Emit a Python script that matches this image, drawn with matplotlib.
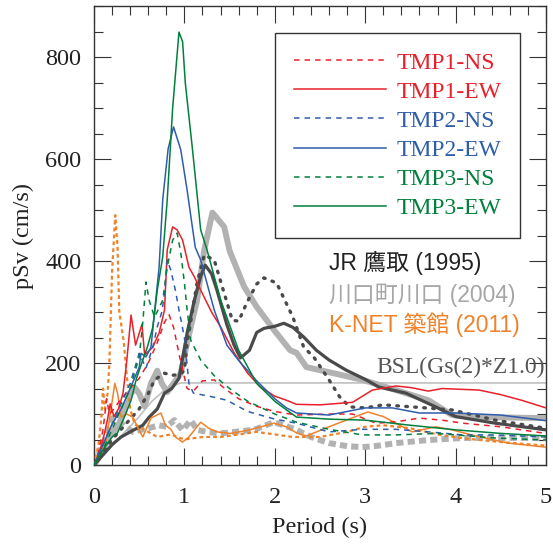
import numpy as np
import matplotlib
matplotlib.use("Agg")
import matplotlib.pyplot as plt

plt.rcParams['font.family'] = ['Liberation Serif', 'DejaVu Serif']

# --- spectra (period [s], pSv [cm/s]) ---
tmp1_ns_t = [0, 0.05, 0.1, 0.14, 0.17, 0.22, 0.3, 0.4, 0.5, 0.6, 0.7, 0.78, 0.83, 0.88, 0.95, 1.03, 1.1, 1.2, 1.33,
             1.44, 1.6, 1.8, 2.0, 2.24, 2.6, 2.86, 3.12, 3.35, 3.6, 3.85, 4.08, 4.5, 4.88, 5.0]
tmp1_ns_v = [0, 25, 70, 130, 100, 110, 130, 150, 170, 200, 240, 280, 295, 270, 210, 150, 145, 165, 167,
             151, 130, 115, 105, 98, 100, 100, 82, 85, 92, 88, 82, 75, 65, 62]

tmp1_ew_t = [0, 0.05, 0.1, 0.15, 0.18, 0.22, 0.27, 0.32, 0.36, 0.41, 0.46, 0.53, 0.56, 0.65, 0.72, 0.78, 0.81, 0.87,
             0.92, 0.98, 1.05, 1.11, 1.18, 1.3, 1.4, 1.55, 1.7, 1.84, 2.0, 2.13, 2.24, 2.5, 2.86, 3.08, 3.34, 3.5,
             3.7, 3.85, 4.26, 4.5, 4.73, 5.0]
tmp1_ew_v = [0, 20, 50, 90, 120, 95, 110, 140, 200, 294, 235, 276, 216, 231, 259, 304, 422, 467,
             461, 441, 388, 369, 343, 300, 271, 220, 180, 153, 135, 127, 119, 118, 123, 147, 155, 152,
             145, 150, 147, 138, 127, 112]

tmp2_ns_t = [0, 0.1, 0.2, 0.3, 0.4, 0.5, 0.575, 0.65, 0.7, 0.75, 0.78, 0.81, 0.85, 0.9, 0.94, 1.0, 1.05, 1.1, 1.33,
             1.47, 1.7, 2.0, 2.24, 2.6, 2.97, 3.34, 3.7, 4.08, 4.44, 5.0]
tmp2_ns_v = [0, 40, 80, 120, 160, 219, 190, 231, 271, 300, 337, 402, 382, 343, 304, 250, 160, 141, 133,
             127, 105, 90, 82, 65, 70, 70, 65, 59, 59, 55]

tmp2_ew_t = [0, 0.1, 0.2, 0.3, 0.4, 0.5, 0.52, 0.575, 0.63, 0.67, 0.72, 0.76, 0.82, 0.88, 0.96, 1.03, 1.12, 1.18,
             1.33, 1.47, 1.6, 1.8, 2.0, 2.13, 2.24, 2.6, 3.0, 3.3, 3.6, 4.0, 4.5, 5.0]
tmp2_ew_v = [0, 40, 80, 110, 150, 192, 219, 212, 231, 300, 388, 520, 620, 663, 618, 539, 427, 402,
             304, 235, 205, 165, 130, 112, 102, 98, 112, 112, 102, 102, 98, 87]

tmp3_ns_t = [0, 0.1, 0.2, 0.3, 0.4, 0.5, 0.54, 0.575, 0.61, 0.67, 0.76, 0.81, 0.87, 0.92, 0.96, 1.0, 1.03, 1.07,
             1.18, 1.33, 1.5, 1.7, 2.0, 2.24, 2.6, 2.97, 3.34, 3.78, 4.44, 5.0]
tmp3_ns_v = [0, 30, 70, 110, 150, 212, 280, 359, 323, 290, 323, 388, 441, 455, 416, 357, 304, 245,
             206, 175, 150, 125, 100, 84, 70, 59, 59, 62, 53, 49]

tmp3_ew_t = [0, 0.1, 0.2, 0.26, 0.35, 0.41, 0.47, 0.54, 0.59, 0.65, 0.7, 0.76, 0.81, 0.87, 0.94, 0.98, 1.01, 1.09,
             1.18, 1.25, 1.4, 1.6, 1.8, 2.0, 2.13, 2.24, 2.6, 3.0, 3.5, 4.0, 4.5, 5.0]
tmp3_ew_v = [0, 30, 55, 63, 100, 127, 170, 206, 231, 270, 343, 408, 520, 700, 849, 830, 749, 618,
             461, 422, 324, 225, 160, 125, 108, 94, 90, 88, 78, 69, 62, 57]

jr_ew_t = [0, 0.1, 0.2, 0.3, 0.4, 0.54, 0.61, 0.7, 0.78, 0.86, 0.94, 1.03, 1.11, 1.18, 1.23, 1.3, 1.36, 1.47,
           1.55, 1.62, 1.72, 1.8, 1.88, 2.0, 2.1, 2.2, 2.32, 2.46, 2.6, 2.79, 3.0, 3.15, 3.45, 3.78, 4.0, 4.44, 5.0]
jr_ew_v = [0, 20, 40, 55, 65, 78, 94, 110, 141, 150, 170, 259, 323, 370, 392, 375, 343, 275,
           235, 210, 225, 260, 268, 272, 278, 270, 251, 225, 206, 186, 168, 153, 141, 114, 95, 82, 69]

jr_ns_t = [0, 0.1, 0.2, 0.3, 0.4, 0.5, 0.6, 0.67, 0.78, 0.87, 0.95, 1.0, 1.03, 1.14, 1.22, 1.33, 1.44, 1.53,
           1.6, 1.69, 1.8, 1.88, 2.02, 2.2, 2.32, 2.43, 2.6, 2.72, 2.83, 3.0, 3.2, 3.52, 3.96, 4.44, 5.0]
jr_ns_v = [0, 25, 50, 70, 90, 110, 140, 167, 180, 176, 178, 185, 239, 357, 412, 402, 337, 284,
           282, 318, 355, 367, 357, 290, 231, 212, 167, 133, 114, 112, 118, 114, 108, 88, 72]

kawa_ew_t = [0, 0.06, 0.17, 0.28, 0.39, 0.45, 0.5, 0.56, 0.63, 0.7, 0.75, 0.81, 0.9, 0.96, 1.03, 1.14, 1.22,
             1.31, 1.44, 1.5, 1.66, 1.8, 1.99, 2.17, 2.24, 2.35, 2.6, 2.97, 3.34, 3.7, 3.96, 4.26, 5.0]
kawa_ew_v = [0, 16, 55, 82, 134, 152, 140, 115, 160, 185, 160, 143, 165, 180, 240, 323, 422,
             495, 467, 420, 350, 310, 265, 225, 220, 192, 182, 167, 147, 127, 98, 94, 92]

kawa_ns_t = [0, 0.1, 0.21, 0.28, 0.35, 0.43, 0.52, 0.6, 0.72, 0.8, 0.89, 0.98, 1.07, 1.14, 1.25, 1.4, 1.6, 1.77,
             1.99, 2.1, 2.24, 2.4, 2.6, 2.8, 2.97, 3.15, 3.34, 3.7, 4.08, 5.0]
kawa_ns_v = [0, 40, 92, 85, 75, 65, 69, 72, 78, 75, 88, 68, 88, 69, 65, 62, 66, 69,
             84, 78, 69, 55, 43, 37, 35, 38, 43, 49, 53, 53]

knet_ew_t = [0, 0.05, 0.13, 0.18, 0.23, 0.26, 0.3, 0.36, 0.43, 0.48, 0.54, 0.63, 0.74, 0.79, 0.85, 0.9, 0.98,
             1.05, 1.18, 1.27, 1.36, 1.51, 1.7, 1.85, 1.99, 2.13, 2.24, 2.35, 2.6, 2.79, 3.03, 3.2, 3.34, 3.52,
             3.78, 3.96, 4.2, 4.58, 5.0]
knet_ew_v = [0, 20, 43, 100, 160, 141, 94, 100, 94, 75, 55, 92, 102, 78, 70, 55, 45,
             55, 84, 72, 65, 62, 68, 75, 82, 75, 63, 57, 75, 88, 104, 95, 82, 65,
             75, 69, 58, 43, 35]

knet_ns_t = [0, 0.05, 0.08, 0.1, 0.12, 0.15, 0.17, 0.2, 0.235, 0.26, 0.28, 0.33, 0.36, 0.4, 0.45, 0.55, 0.7,
             0.85, 1.0, 1.2, 1.4, 1.6, 1.8, 2.0, 2.2, 2.5, 2.8, 3.0, 3.2, 3.5, 3.8, 4.1, 4.5, 5.0]
knet_ns_v = [0, 40, 90, 150, 110, 140, 200, 380, 490, 430, 300, 240, 180, 110, 80, 70, 55,
             60, 50, 55, 55, 60, 65, 60, 55, 55, 65, 75, 78, 72, 60, 52, 45, 38]

bsl_t = [0, 0.16, 0.5, 0.64, 0.8, 0.96, 5.0]
bsl_v = [0, 30, 95, 125, 150, 161, 161]

RED = '#e8202a'
BLUE = '#2f5dab'
GREEN = '#00803c'
ORANGE = '#f0822a'
DGRAY = '#4a4a4a'
LGRAY = '#b2b2b2'

fig = plt.figure(figsize=(5.53, 5.50), dpi=100)
ax = fig.add_axes([0.170, 0.1545, 0.8173, 0.8345])

# BSL reference
ax.plot(bsl_t, bsl_v, color='#c0c0c0', lw=1.2, zorder=1)

# observed records
ax.plot(kawa_ns_t, kawa_ns_v, color=LGRAY, lw=4.3, dashes=(1.2, 0.7), zorder=2)
ax.plot(kawa_ew_t, kawa_ew_v, color=LGRAY, lw=4.3, solid_joinstyle='round', zorder=2)
ax.plot(jr_ns_t, jr_ns_v, color=DGRAY, lw=2.4, dashes=(0.5, 2.2), dash_capstyle='round', zorder=3)
ax.plot(jr_ew_t, jr_ew_v, color=DGRAY, lw=2.3, zorder=3)
ax.plot(knet_ns_t, knet_ns_v, color=ORANGE, lw=1.6, dashes=(1.7, 1.4), zorder=3)
ax.plot(knet_ew_t, knet_ew_v, color=ORANGE, lw=1.1, zorder=3)

# simulated spectra
series = [
    (tmp1_ns_t, tmp1_ns_v, RED, True, 'TMP1-NS'),
    (tmp1_ew_t, tmp1_ew_v, RED, False, 'TMP1-EW'),
    (tmp2_ns_t, tmp2_ns_v, BLUE, True, 'TMP2-NS'),
    (tmp2_ew_t, tmp2_ew_v, BLUE, False, 'TMP2-EW'),
    (tmp3_ns_t, tmp3_ns_v, GREEN, True, 'TMP3-NS'),
    (tmp3_ew_t, tmp3_ew_v, GREEN, False, 'TMP3-EW'),
]
handles = []
for t, v, c, dashed, name in series:
    if dashed:
        ln, = ax.plot(t, v, color=c, lw=1.1, dashes=(3.6, 3.3), zorder=4, label=name)
    else:
        ln, = ax.plot(t, v, color=c, lw=1.1, zorder=4, label=name)
    handles.append(ln)

ax.set_xlim(0, 5)
ax.set_ylim(0, 900)
ax.set_xticks([0, 1, 2, 3, 4, 5])
ax.set_xticks(np.arange(0, 5.01, 0.2), minor=True)
ax.set_yticks([0, 200, 400, 600, 800])
ax.set_yticks(np.arange(0, 901, 50), minor=True)
ax.tick_params(which='both', direction='in', top=True, right=True, colors='#333333', width=0.8,
               labelsize=17.5, labelcolor='#222222')
ax.tick_params(which='major', length=12)
ax.tick_params(which='minor', length=6.5)
ax.tick_params(axis='x', pad=16)
ax.tick_params(axis='y', pad=9)
for sp in ax.spines.values():
    sp.set_color('#333333')
    sp.set_linewidth(1.0)

ax.set_xlabel('Period (s)', fontsize=17.5, color='#222222', labelpad=6)
ax.set_ylabel('pSv (cm/s)', fontsize=17.5, color='#222222', labelpad=8)

leg = ax.legend(handles=handles, loc='upper left', bbox_to_anchor=(0.4, 0.941), fontsize=17,
                frameon=True, fancybox=False, edgecolor='#333333', framealpha=1,
                handlelength=3.9, handletextpad=0.45, labelspacing=0.32, borderpad=0.8,
                borderaxespad=0, labelcolor='linecolor')
leg.get_frame().set_linewidth(1.0)

jp = ['Liberation Sans', 'Noto Sans CJK JP']
ax.text(0.521, 0.44, 'JR 鷹取 (1995)', transform=ax.transAxes, family=jp, fontsize=16.5,
        color='#222222', va='center', ha='left')
ax.text(0.521, 0.370, '川口町川口 (2004)', transform=ax.transAxes, family=jp, fontsize=16.5,
        color='#a6a6a6', va='center', ha='left')
ax.text(0.521, 0.305, 'K-NET 築館 (2011)', transform=ax.transAxes, family=jp, fontsize=16.5,
        color=ORANGE, va='center', ha='left')
ax.text(4.99, 192, 'BSL(Gs(2)*Z1.0)', fontsize=17, color='#555555', va='center', ha='right')

fig.savefig('out.png', dpi=100)
